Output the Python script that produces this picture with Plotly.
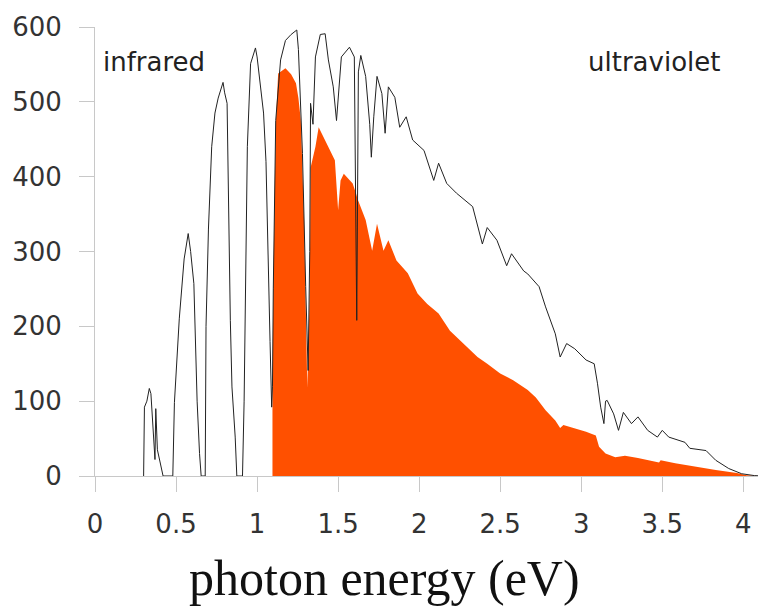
import plotly.graph_objects as go

# full spectrum (black line), photon energy in eV
energy = [0.30, 0.305, 0.32, 0.335, 0.345, 0.36, 0.37, 0.375, 0.385, 0.40, 0.42,
          0.48, 0.49, 0.52, 0.55, 0.575, 0.59, 0.61, 0.62, 0.63, 0.645, 0.655,
          0.68, 0.685, 0.70, 0.72, 0.74, 0.76, 0.79, 0.80, 0.815, 0.825, 0.835, 0.845, 0.865, 0.875,
          0.91, 0.92, 0.93, 0.94, 0.96, 0.99, 1.00, 1.01, 1.04, 1.055, 1.07, 1.08, 1.09, 1.095,
          1.10, 1.115, 1.145, 1.175, 1.21, 1.245, 1.255, 1.26, 1.28, 1.30, 1.315, 1.325, 1.33,
          1.345, 1.36, 1.39, 1.42, 1.44, 1.47, 1.49, 1.52, 1.57, 1.60, 1.615, 1.625, 1.64,
          1.67, 1.695, 1.705, 1.72, 1.74, 1.77, 1.79, 1.81, 1.85, 1.88, 1.92, 1.96, 2.03,
          2.09, 2.12, 2.17, 2.23, 2.33, 2.39, 2.42, 2.48, 2.54, 2.57, 2.645, 2.67, 2.74,
          2.78, 2.84, 2.87, 2.91, 2.96, 3.03, 3.08, 3.10, 3.12, 3.14, 3.15, 3.16, 3.20,
          3.23, 3.26, 3.31, 3.35, 3.41, 3.47, 3.50, 3.54, 3.64, 3.67, 3.77, 3.83, 3.91,
          3.99, 4.07, 4.13]
spectrum = [0, 92, 100, 117, 110, 60, 22, 90, 35, 20, 0,
            0, 98, 210, 290, 324, 300, 257, 160, 100, 30, 0,
            0, 200, 330, 440, 485, 505, 526, 512, 498, 342, 208, 119, 52, 0,
            0, 100, 253, 440, 551, 572, 560, 542, 485, 420, 297, 180, 92, 120,
            250, 475, 556, 582, 590, 596, 570, 542, 431, 253, 141, 300, 498,
            470, 560, 590, 591, 556, 520, 475, 560, 573, 560, 208, 540, 562,
            534, 470, 426, 480, 534, 511, 458, 520, 506, 466, 480, 449, 435,
            395, 418, 391, 378, 360, 310, 332, 315, 281, 297, 274, 270, 253,
            226, 190, 159, 177, 170, 155, 150, 124, 92, 70, 100, 101, 83,
            61, 85, 70, 79, 61, 52, 61, 52, 45, 37, 34, 21, 10,
            3, 0.5, 0]

# part usable above the 1.1 eV gap (orange fill)
energy_si = [1.095, 1.10, 1.115, 1.13, 1.175, 1.21, 1.24, 1.255, 1.27, 1.29, 1.31, 1.325, 1.33,
             1.36, 1.38, 1.43, 1.48, 1.50, 1.515, 1.535, 1.59, 1.61, 1.62, 1.67, 1.70, 1.71,
             1.74, 1.78, 1.81, 1.86, 1.93, 1.99, 2.05, 2.12, 2.19, 2.275, 2.36, 2.42, 2.50,
             2.58, 2.67, 2.72, 2.78, 2.84, 2.87, 2.89, 2.96, 3.03, 3.09, 3.11, 3.15, 3.21,
             3.27, 3.35, 3.48, 3.49, 3.58, 3.71, 3.83, 3.96, 4.02, 4.10]
usable = [118, 250, 470, 538, 545, 537, 525, 505, 475, 342, 118, 250, 412,
          440, 466, 445, 422, 355, 395, 404, 391, 378, 370, 342, 310, 301,
          337, 301, 315, 288, 271, 244, 230, 217, 194, 177, 159, 150, 137,
          128, 115, 105, 88, 74, 64, 68, 64, 59, 54, 39, 30, 25,
          27, 24, 18, 21, 17, 12, 8, 4, 1, 0]

x_ticks = [0, 0.5, 1, 1.5, 2, 2.5, 3, 3.5, 4]
x_labels = ["0", "0.5", "1", "1.5", "2", "2.5", "3", "3.5", "4"]
y_ticks = [0, 100, 200, 300, 400, 500, 600]

fig = go.Figure()
fig.add_trace(go.Scatter(x=energy_si, y=usable, mode="lines", fill="tozeroy",
                         line=dict(width=0, color="#ff5000"), fillcolor="#ff5000",
                         showlegend=False, hoverinfo="skip"))
fig.add_trace(go.Scatter(x=energy, y=spectrum, mode="lines",
                         line=dict(width=1, color="#222222"), showlegend=False))

tick_font = dict(family="DejaVu Sans", size=26, color="#333333")
fig.update_xaxes(range=[0, 4.14], tickvals=x_ticks, ticktext=x_labels,
                 showline=True, linecolor="#c8c8c8", linewidth=1,
                 ticks="outside", ticklen=15, tickcolor="#c8c8c8",
                 showgrid=False, zeroline=False, tickfont=tick_font, ticklabelstandoff=10)
fig.update_yaxes(range=[0, 600], tickvals=y_ticks,
                 showline=True, linecolor="#c8c8c8", linewidth=1,
                 ticks="outside", ticklen=15, tickcolor="#c8c8c8",
                 showgrid=False, zeroline=False, tickfont=tick_font, ticklabelstandoff=12)

fig.add_annotation(x=0.034, y=553, xref="x", yref="y", text="infrared", showarrow=False,
                   xanchor="left", yanchor="middle",
                   font=dict(family="DejaVu Sans", size=26, color="#222222"))
fig.add_annotation(x=3.03, y=553, xref="x", yref="y", text="ultraviolet", showarrow=False,
                   xanchor="left", yanchor="middle",
                   font=dict(family="DejaVu Sans", size=26, color="#222222"))
fig.add_annotation(x=0.432, y=-0.228, xref="paper", yref="paper", text="photon energy (eV)",
                   showarrow=False, xanchor="center", yanchor="middle",
                   font=dict(family="Liberation Serif", size=50, color="#111111"))

# page body adds an 8px margin, so the figure is sized to fit inside it
fig.update_layout(width=758, height=599, margin=dict(l=87, r=0, t=19, b=131),
                  plot_bgcolor="white", paper_bgcolor="white")

fig.write_html("out.html")
